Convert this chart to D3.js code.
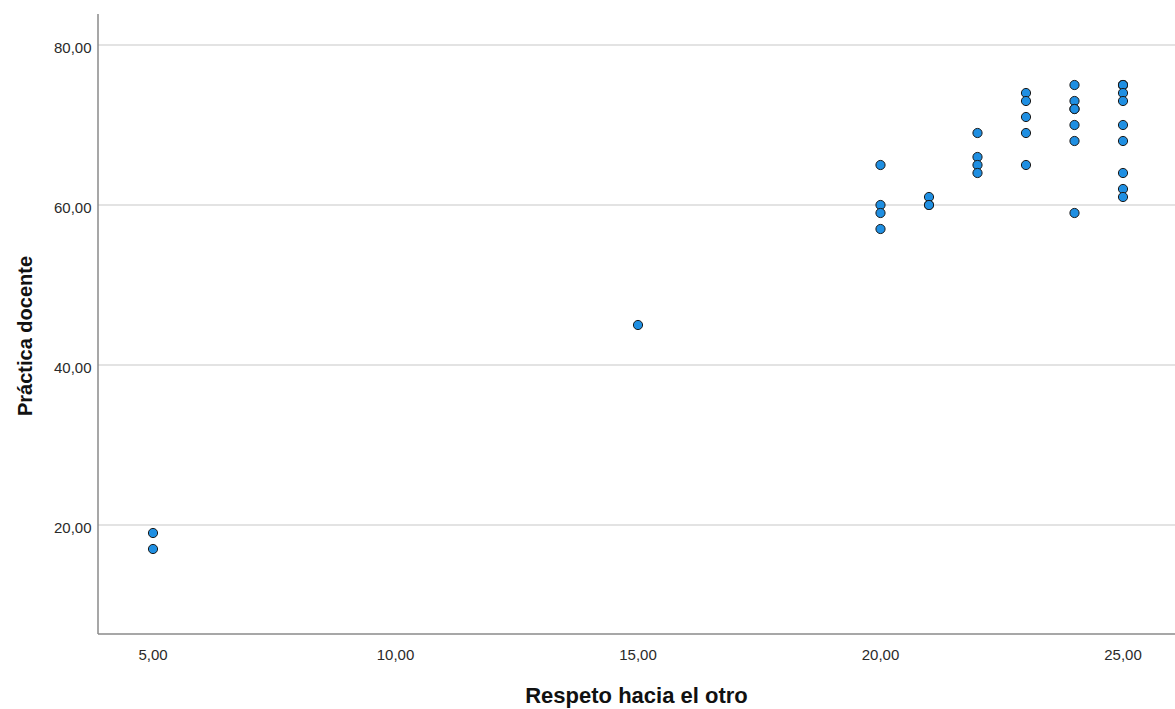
<!DOCTYPE html>
<html><head><meta charset="utf-8">
<script src="https://cdn.jsdelivr.net/npm/d3@7"></script>
<style>body{margin:0;background:#fff}svg{display:block}</style>
</head><body>
<svg id="c" width="1175" height="709"></svg>
<script>
const xValues = [5,5,15,20,20,20,20,21,21,21,22,22,22,22,23,23,23,23,23,24,24,24,24,24,24,24,25,25,25,25,25,25,25,25,25,25];
const yValues = [19,17,45,65,60,59,57,61,60,60,69,66,65,64,74,73,71,69,65,75,73,72,72,70,68,59,75,75,75,74,73,70,68,64,62,61];
const xTicks = [5,10,15,20,25];
const yTicks = [20,40,60,80];
const xTitle = "Respeto hacia el otro";
const yTitle = "Práctica docente";

(function () {
const svg = d3.select("#c");
const pLeft = 98, pRight = 1175, pTop = 14, pBottom = 634;
const x = d3.scaleLinear().domain([5,25]).range([153,1123]);
const y = d3.scaleLinear().domain([20,80]).range([525,45]);
const fmt = d => d.toFixed(2).replace(".", ",");
const font = "'Liberation Sans', Arial, sans-serif";

svg.append("g").selectAll("line").data(yTicks).join("line")
  .attr("x1", pLeft).attr("x2", pRight)
  .attr("y1", d => y(d)).attr("y2", d => y(d))
  .attr("stroke", "#c8c8c8").attr("stroke-width", 1.2);

svg.append("line").attr("x1", pLeft).attr("x2", pLeft).attr("y1", pTop).attr("y2", pBottom)
  .attr("stroke", "#8a8a8a").attr("stroke-width", 1.5);
svg.append("line").attr("x1", pLeft).attr("x2", pRight).attr("y1", pBottom).attr("y2", pBottom)
  .attr("stroke", "#8a8a8a").attr("stroke-width", 1.5);

svg.append("g").selectAll("text").data(yTicks).join("text")
  .attr("x", 91.5).attr("y", d => y(d) + 8)
  .attr("text-anchor", "end").attr("font-family", font).attr("font-size", 15)
  .attr("fill", "#2a2a2a").text(fmt);
svg.append("g").selectAll("text").data(xTicks).join("text")
  .attr("x", d => x(d)).attr("y", 660)
  .attr("text-anchor", "middle").attr("font-family", font).attr("font-size", 15)
  .attr("fill", "#2a2a2a").text(fmt);

svg.append("text").attr("x", (pLeft + pRight) / 2).attr("y", 703)
  .attr("text-anchor", "middle").attr("font-family", font).attr("font-size", 22)
  .attr("font-weight", "bold").attr("fill", "#111").text(xTitle);
svg.append("text").attr("transform", "translate(32,336) rotate(-90)")
  .attr("text-anchor", "middle").attr("font-family", font).attr("font-size", 20)
  .attr("font-weight", "bold").attr("fill", "#111").text(yTitle);

const pts = xValues.map((v, i) => ({x: v, y: yValues[i]}));
svg.append("g").selectAll("circle").data(pts).join("circle")
  .attr("cx", d => x(d.x)).attr("cy", d => y(d.y)).attr("r", 4.6)
  .attr("fill", "#1f8fe2").attr("stroke", "#1a1a1a").attr("stroke-width", 1);
})();
</script>
</body></html>
